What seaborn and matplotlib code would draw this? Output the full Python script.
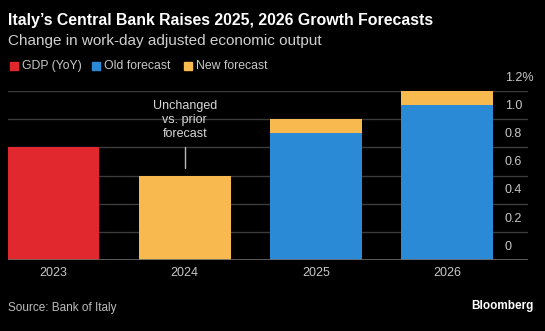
import numpy as np
import pandas as pd
import matplotlib
matplotlib.use("Agg")
import matplotlib.pyplot as plt
import seaborn as sns

categories = ["2023", "2024", "2025", "2026"]
gdp_yoy = [0.8, np.nan, np.nan, np.nan]
old_forecast = [np.nan, np.nan, 0.9, 1.1]
new_forecast = [np.nan, 0.6, 1.0, 1.2]
y_ticks = [0, 0.2, 0.4, 0.6, 0.8, 1.0, 1.2]
y_tick_labels = ["0", "0.2", "0.4", "0.6", "0.8", "1.0", "1.2%"]

RED = "#e0282e"
BLUE = "#2a8ad6"
YELLOW = "#f8b94e"
BG = "#000000"

sns.set_theme(style="dark")
plt.rcParams["font.family"] = ["Liberation Sans", "DejaVu Sans"]

fig = plt.figure(figsize=(5.45, 3.31), dpi=100, facecolor=BG)
ax = fig.add_axes([7.6 / 545, 1 - 260 / 331, (527.7 - 7.6) / 545, (260 - 91) / 331])
ax.set_facecolor(BG)

df = pd.DataFrame({"cat": categories, "gdp": gdp_yoy, "old": old_forecast, "new": new_forecast})

for col, c in [("new", YELLOW), ("old", BLUE), ("gdp", RED)]:
    sns.barplot(data=df, x="cat", y=col, order=categories, color=c, width=0.7,
                errorbar=None, saturation=1, ax=ax, zorder=2, linewidth=0)

ax.set_xlim(-0.35, 3.615)
ax.set_ylim(0, 1.2)
ax.set_xlabel("")
ax.set_ylabel("")
for s in ax.spines.values():
    s.set_visible(False)
ax.set_yticks(y_ticks)
ax.set_yticklabels([])
ax.tick_params(axis="y", length=0)
ax.grid(False)
for t in y_ticks[1:]:
    ax.axhline(t, color="#3c3c3c", lw=1.0, zorder=1)
ax.axhline(0, color="#6a6a6a", lw=1.2, zorder=3)
for t, lab in zip(y_ticks, y_tick_labels):
    ax.annotate(lab, xy=(1.0, t), xycoords=("axes fraction", "data"),
                xytext=(-16.5, 9.5), textcoords="offset points",
                ha="left", va="center", fontsize=9, color="#c8c8c8")

ax.tick_params(axis="x", length=0, pad=5, labelsize=9, labelcolor="#c8c8c8")

# annotation for 2024
ax.text(1, 0.996, "Unchanged\nvs. prior\nforecast", ha="center", va="center",
        fontsize=9, color="#d8d8d8", linespacing=1.2, zorder=4)
ax.plot([1, 1], [0.651, 0.805], color="#bbbbbb", lw=1, zorder=4)

# titles
fig.text(8.5 / 545, 1 - 21 / 331, "Italy\u2019s Central Bank Raises 2025, 2026 Growth Forecasts",
         fontsize=11.4, fontweight="bold", color="white", ha="left", va="center")
fig.text(8.5 / 545, 1 - 41 / 331, "Change in work-day adjusted economic output",
         fontsize=11, color="#d0d0d0", ha="left", va="center")

# legend
legend_items = [("GDP (YoY)", RED, 9.7), ("Old forecast", BLUE, 92), ("New forecast", YELLOW, 183.5)]
for lab, c, x0 in legend_items:
    fig.patches.append(plt.Rectangle((x0 / 545, 1 - 70 / 331), 8 / 545, 8 / 331,
                                     transform=fig.transFigure, color=c, figure=fig))
    fig.text((x0 + 12.5) / 545, 1 - 66 / 331, lab, fontsize=8.8, color="#c8c8c8",
             ha="left", va="center")

fig.text(8 / 545, 1 - 308 / 331, "Source: Bank of Italy", fontsize=8.5, color="#bdbdbd",
         ha="left", va="center")
fig.text(534 / 545, 1 - 305.5 / 331, "Bloomberg", fontsize=8.5, fontweight="bold",
         color="white", ha="right", va="center")

fig.savefig("out.png", dpi=100, facecolor=BG)
